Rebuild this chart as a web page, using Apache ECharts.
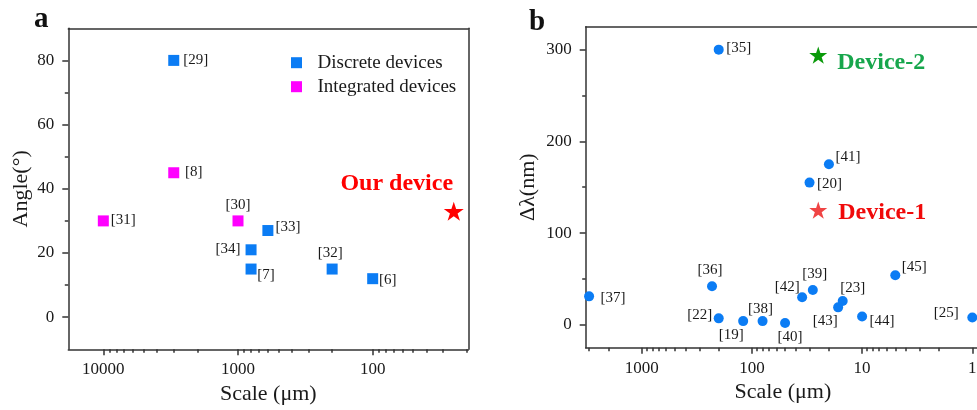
<!DOCTYPE html>
<html>
<head>
<meta charset="utf-8">
<script src="https://cdn.jsdelivr.net/npm/echarts@6/dist/echarts.min.js"></script>
<style>html,body{margin:0;padding:0;background:#fff;}#c{width:977px;height:410px;}</style>
</head>
<body>
<div id="c"></div>
<script>
// ---------- Panel a data ----------
const discreteScale = [3000, 800, 800, 600, 200, 100];
const discreteAngle = [80, 21, 15, 27, 15, 12];
const discreteRefs = ['[29]', '[34]', '[7]', '[33]', '[32]', '[6]'];
const integratedScale = [10000, 3000, 1000];
const integratedAngle = [30, 45, 30];
const integratedRefs = ['[31]', '[8]', '[30]'];
const ourScale = [25];
const ourAngle = [33];
// ---------- Panel b data ----------
const refScaleB = [200, 3000, 230, 200, 120, 80, 50, 35, 28, 30, 20, 16.5, 15, 10, 5, 1];
const refShiftB = [300, 31, 42, 7, 4, 4, 2, 30, 38, 155, 175, 19, 26, 9, 54, 8];
const refNamesB = ['[35]', '[37]', '[36]', '[22]', '[19]', '[38]', '[40]', '[42]', '[39]', '[20]', '[41]', '[43]', '[23]', '[44]', '[45]', '[25]'];
const device1Scale = [25];
const device1Shift = [125];
const device2Scale = [25];
const device2Shift = [294];
// ---------- Tick values ----------
const xMajorA = [100, 1000, 10000];
const xMajorB = [1, 10, 100, 1000];
const yMajorA = [0, 20, 40, 60, 80];
const yMinorA = [10, 30, 50, 70];
const yMajorB = [0, 100, 200, 300];
const yMinorB = [50, 150, 250];

// ---------- layout (label offsets, not data) ----------
const offA_discrete = [[22, 0], [-23, -1], [15, 6], [20, -3], [-2, -16], [15, 1]];
const offA_integrated = [[20, -1], [20, -1], [0, -16]];
const offB = [[20, -2], [24, 2], [-2, -16], [-19, -3], [-12, 14], [-2, -12], [5, 14], [-15, -10], [2, -16], [20, 1], [19, -7], [-13, 14], [10, -13], [20, 5], [19, -8], [-26, -4]];

function minorLog(lo, hi) {
  const out = [];
  for (let d = Math.floor(Math.log10(lo)); d <= Math.ceil(Math.log10(hi)); d++) {
    for (let k = 2; k <= 9; k++) {
      const v = k * Math.pow(10, d);
      if (v >= lo && v <= hi) out.push(v);
    }
  }
  return out;
}

const FONT = '"Liberation Serif", "Times New Roman", serif';
const INK = '#1a1a1a';
const LINE = { color: '#333', width: 1.5 };
const BLUE = '#0b7cf4';
const MAG = '#ff00ff';
const STAR = 'path://M50,0L61.23,34.55L97.55,34.55L68.17,55.9L79.39,90.45L50,69.1L20.61,90.45L31.83,55.9L2.45,34.55L38.77,34.55Z';

const aMin = 19.5, aMax = 18200, bMin = 0.85, bMax = 3220;

function lblPts(xs, ys, names, offs) {
  return xs.map((x, i) => ({
    value: [x, ys[i]],
    label: { show: true, position: 'inside', offset: offs[i], formatter: names[i],
             fontFamily: FONT, fontSize: 15, color: INK }
  }));
}

function logAxis(grid, lo, hi, major, name) {
  return {
    type: 'log', logBase: 10, gridIndex: grid, min: lo, max: hi, inverse: true, position: 'bottom',
    axisLine: { show: true, onZero: false, lineStyle: LINE },
    axisTick: { show: true, length: 6, inside: false, customValues: major, lineStyle: LINE },
    axisLabel: { show: true, customValues: major, margin: 12, fontFamily: FONT, fontSize: 17, color: INK,
                 formatter: v => String(Math.round(v)) },
    splitLine: { show: false },
    name: name, nameLocation: 'middle', nameGap: 30,
    nameTextStyle: { fontFamily: FONT, fontSize: 22, color: INK }
  };
}
function logMinor(grid, lo, hi) {
  return {
    type: 'log', logBase: 10, gridIndex: grid, min: lo, max: hi, inverse: true, position: 'bottom',
    axisLine: { show: false, onZero: false },
    axisTick: { show: true, length: 3.5, inside: false, customValues: minorLog(lo, hi), lineStyle: LINE },
    axisLabel: { show: false }, splitLine: { show: false }
  };
}
function borderX(grid) {
  return { type: 'value', gridIndex: grid, position: 'top', min: 0, max: 1,
    axisLine: { show: true, onZero: false, lineStyle: LINE }, axisTick: { show: false },
    axisLabel: { show: false }, splitLine: { show: false } };
}
function valAxis(grid, lo, hi, major, name, gap) {
  return {
    type: 'value', gridIndex: grid, min: lo, max: hi, position: 'left',
    axisLine: { show: true, onZero: false, lineStyle: LINE },
    axisTick: { show: true, length: 6, inside: false, customValues: major, lineStyle: LINE },
    axisLabel: { show: true, customValues: major, margin: 14, fontFamily: FONT, fontSize: 17, color: INK },
    splitLine: { show: false },
    name: name, nameLocation: 'middle', nameGap: gap,
    nameTextStyle: { fontFamily: FONT, fontSize: 22, color: INK }
  };
}
function valMinor(grid, lo, hi, minor) {
  return {
    type: 'value', gridIndex: grid, min: lo, max: hi, position: 'left',
    axisLine: { show: false, onZero: false },
    axisTick: { show: true, length: 3.5, inside: false, customValues: minor, lineStyle: LINE },
    axisLabel: { show: false }, splitLine: { show: false }
  };
}
function borderY(grid) {
  return { type: 'value', gridIndex: grid, position: 'right', min: 0, max: 1,
    axisLine: { show: true, onZero: false, lineStyle: LINE }, axisTick: { show: false },
    axisLabel: { show: false }, splitLine: { show: false } };
}

const chart = echarts.init(document.getElementById('c'), null, { renderer: 'canvas' });
chart.setOption({
  animation: false,
  backgroundColor: '#fff',
  textStyle: { fontFamily: FONT },
  grid: [
    { left: 68.3, top: 28.3, width: 400, height: 321, containLabel: false, outerBoundsMode: 'none' },
    { left: 585.7, top: 26.7, width: 394.4, height: 321, containLabel: false, outerBoundsMode: 'none' }
  ],
  xAxis: [
    logAxis(0, aMin, aMax, xMajorA, 'Scale (μm)'),
    logMinor(0, aMin, aMax),
    borderX(0),
    logAxis(1, bMin, bMax, xMajorB, 'Scale (μm)'),
    logMinor(1, bMin, bMax),
    borderX(1)
  ],
  yAxis: [
    valAxis(0, -10, 90, yMajorA, 'Angle(°)', 36),
    valMinor(0, -10, 90, yMinorA),
    borderY(0),
    valAxis(1, -25, 325, yMajorB, 'Δλ(nm)', 46),
    valMinor(1, -25, 325, yMinorB),
    borderY(1)
  ],
  legend: {
    data: ['Discrete devices', 'Integrated devices'],
    orient: 'vertical', left: 286, top: 47.7, itemGap: 4,
    itemWidth: 32, itemHeight: 11,
    icon: 'path://M0,0H10V10H0Z',
    textStyle: { fontFamily: FONT, fontSize: 19, color: INK, lineHeight: 20 }
  },
  graphic: [
    { type: 'text', left: 34, top: 5, style: { text: 'a', font: 'bold 29px "Liberation Serif", serif', fill: '#111' } },
    { type: 'text', left: 529, top: 8, style: { text: 'b', font: 'bold 29px "Liberation Serif", serif', fill: '#111' } }
  ],
  series: [
    { name: 'Discrete devices', type: 'scatter', xAxisIndex: 0, yAxisIndex: 0, symbol: 'rect', symbolSize: 11,
      itemStyle: { color: BLUE, opacity: 1 }, data: lblPts(discreteScale, discreteAngle, discreteRefs, offA_discrete) },
    { name: 'Integrated devices', type: 'scatter', xAxisIndex: 0, yAxisIndex: 0, symbol: 'rect', symbolSize: 11,
      itemStyle: { color: MAG, opacity: 1 }, data: lblPts(integratedScale, integratedAngle, integratedRefs, offA_integrated) },
    { name: 'Our device', type: 'scatter', xAxisIndex: 0, yAxisIndex: 0, symbol: STAR, symbolKeepAspect: true, symbolSize: 20,
      itemStyle: { color: '#ff0000', opacity: 1 },
      data: ourScale.map((x, i) => [x, ourAngle[i]]),
      label: { show: true, position: 'inside', offset: [-57, -27], formatter: 'Our device',
               fontFamily: FONT, fontWeight: 'bold', fontSize: 24, color: '#ff0000' } },
    { name: 'Refs b', type: 'scatter', xAxisIndex: 3, yAxisIndex: 3, symbol: 'circle', symbolSize: 10,
      itemStyle: { color: BLUE, opacity: 1 }, data: lblPts(refScaleB, refShiftB, refNamesB, offB) },
    { name: 'Device-1', type: 'scatter', xAxisIndex: 3, yAxisIndex: 3, symbol: STAR, symbolKeepAspect: true, symbolSize: 18,
      itemStyle: { color: '#f04444', opacity: 1 },
      data: device1Scale.map((x, i) => [x, device1Shift[i]]),
      label: { show: true, position: 'inside', offset: [64, 3], formatter: 'Device-1',
               fontFamily: FONT, fontWeight: 'bold', fontSize: 24, color: '#f00a0a' } },
    { name: 'Device-2', type: 'scatter', xAxisIndex: 3, yAxisIndex: 3, symbol: STAR, symbolKeepAspect: true, symbolSize: 18,
      itemStyle: { color: '#0a9a0a', opacity: 1 },
      data: device2Scale.map((x, i) => [x, device2Shift[i]]),
      label: { show: true, position: 'inside', offset: [63, 8], formatter: 'Device-2',
               fontFamily: FONT, fontWeight: 'bold', fontSize: 24, color: '#17a64c' } }
  ]
});
</script>
</body>
</html>
